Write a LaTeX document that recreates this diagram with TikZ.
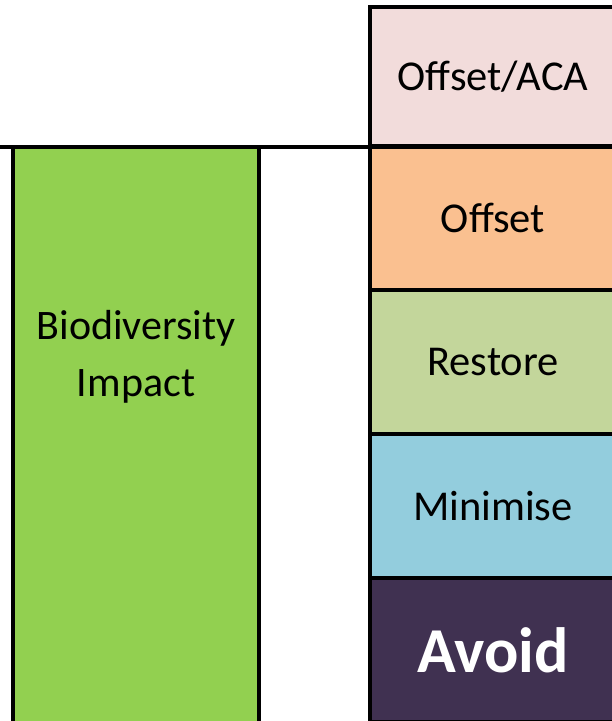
\documentclass[tikz,border=0pt]{standalone}
\usepackage{fontspec}
\setmainfont{Carlito}
\usepackage{tikz}
\usetikzlibrary{positioning}
\definecolor{acapink}{HTML}{F2DCDB}
\definecolor{offsetorange}{HTML}{FAC090}
\definecolor{restoregreen}{HTML}{C3D69B}
\definecolor{minimiseblue}{HTML}{93CDDD}
\definecolor{avoidpurple}{HTML}{403151}
\definecolor{impactgreen}{HTML}{92D050}
\tikzset{layer/.style={draw=black, line width=3.2pt, minimum width=246pt,
  minimum height=144pt, inner sep=0pt, outer sep=0pt,
  font=\fontsize{42.5}{50}\selectfont}}

\begin{document}
\begin{tikzpicture}[x=1pt,y=-1pt]
\useasboundingbox (0,0) rectangle (612,721);

% impact bar
\node[layer, fill=impactgreen, minimum height=580pt, anchor=north west] (impact) at (13,147) {};
\node[font=\fontsize{42}{57}\selectfont, align=center] (impactlabel) at (136,357) {Biodiversity\\Impact};

% mitigation hierarchy
\node[layer, fill=avoidpurple, text=white, font=\fontsize{64}{76}\bfseries, anchor=north west] (avoid) at (370,578) {Avoid};
\node[layer, fill=minimiseblue, above=0pt of avoid] (minimise) {Minimise};
\node[layer, fill=restoregreen, above=0pt of minimise] (restore) {Restore};
\node[layer, fill=offsetorange, above=0pt of restore] (offset) {Offset};
\node[layer, fill=acapink, minimum height=139pt, above=0pt of offset] (aca) {Offset/ACA};

% no net loss line
\coordinate (lineleft) at (0,147);
\coordinate (lineright) at (612,147);
\draw[line width=3.2pt] (lineleft) -- (lineright);
\end{tikzpicture}
\end{document}
